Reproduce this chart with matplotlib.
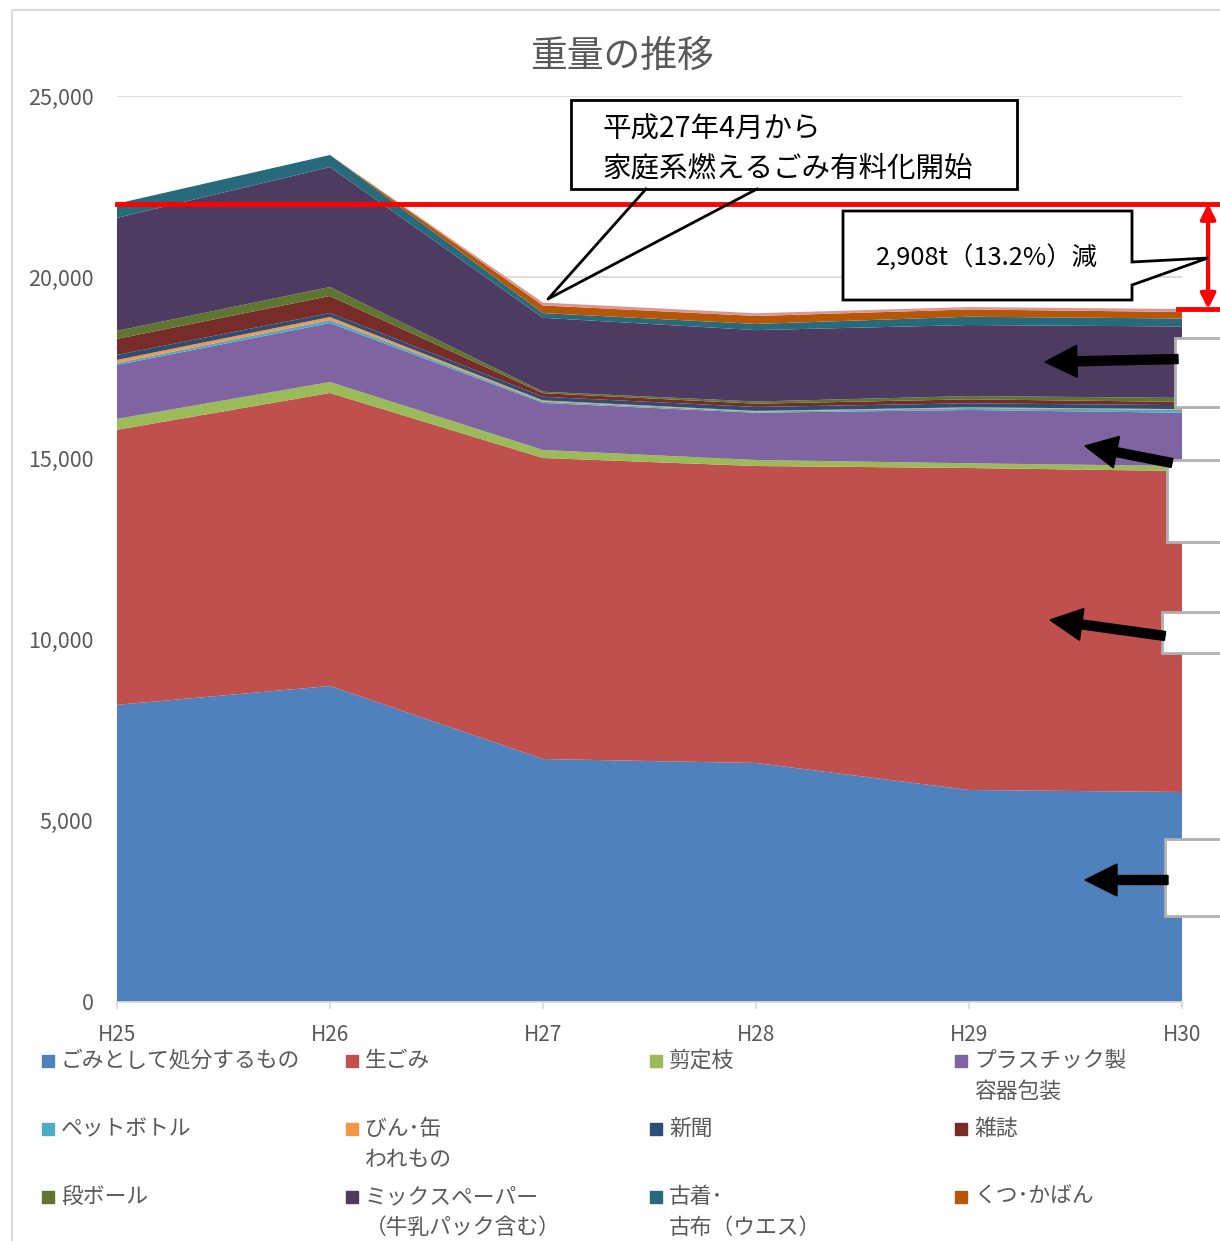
import matplotlib
matplotlib.use('Agg')
import matplotlib.pyplot as plt
from matplotlib.patches import Polygon, Rectangle, FancyArrow
import numpy as np

plt.rcParams['font.family'] = ['Noto Sans CJK JP', 'DejaVu Sans']

# data (t)
years = ['H25', 'H26', 'H27', 'H28', 'H29', 'H30']
gomi = [8200, 8720, 6705, 6595, 5850, 5795]
namagomi = [7590, 8085, 8306, 8195, 8885, 8857]
sentei = [300, 303, 221, 166, 130, 138]
pura = [1490, 1628, 1298, 1304, 1471, 1471]
pet = [55, 83, 40, 30, 54, 79]
bin_kan = [83, 83, 30, 20, 20, 20]
shinbun = [138, 110, 100, 110, 110, 110]
zasshi = [442, 469, 100, 90, 110, 90]
danbo = [221, 249, 40, 60, 90, 110]
mix = [3118, 3310, 2040, 1970, 1960, 1970]
furugi = [393, 332, 130, 170, 230, 220]
kutsu = [0, 0, 210, 220, 200, 180]
sonota = [0, 0, 80, 75, 66, 82]

labels = ['ごみとして処分するもの', '生ごみ', '剪定枝', 'プラスチック製\n容器包装',
          'ペットボトル', 'びん･缶\nわれもの', '新聞', '雑誌',
          '段ボール', 'ミックスペーパー\n（牛乳パック含む）', '古着･\n古布（ウエス）', 'くつ･かばん']
colors = ['#4F81BD', '#C0504D', '#9BBB59', '#8064A2', '#4BACC6', '#F79646',
          '#2C4D75', '#772C2A', '#5F7530', '#4D3B62', '#276A7C', '#B65708', '#D99694']

GRAY = '#595959'


def legend_items(fig):
    '''
    Objective: draw the 4 column legend below the chart
    '''
    xs = [42, 346, 650, 955]
    ys = [1061, 1129, 1197]
    W, H = 1220.0, 1241.0
    for i, lab in enumerate(labels):
        x = xs[i % 4]
        y = ys[i // 4]
        fig.patches.append(Rectangle((x / W, 1 - (y + 6) / H), 12 / W, 12 / H,
                                     transform=fig.transFigure, color=colors[i]))
        for j, line in enumerate(lab.split('\n')):
            fig.text((x + 19) / W, 1 - (y + 31 * j) / H, line, fontsize=15.7,
                     color=GRAY, va='center', ha='left')


def main():
    fig = plt.figure(figsize=(12.2, 12.41), dpi=100)
    W, H = 1220.0, 1241.0
    ax = fig.add_axes([117 / W, 1 - 1002 / H, 1065 / W, 906 / H])

    x = np.arange(len(years))
    series = [gomi, namagomi, sentei, pura, pet, bin_kan, shinbun, zasshi,
              danbo, mix, furugi, kutsu, sonota]
    ax.stackplot(x, *series, colors=colors, linewidth=0, zorder=2)

    ax.set_xlim(0, len(years) - 1)
    ax.set_ylim(0, 25000)
    ax.set_yticks(range(0, 25001, 5000))
    ax.set_yticklabels(['{:,}'.format(v) for v in range(0, 25001, 5000)])
    ax.set_xticks(x)
    ax.set_xticklabels(years)
    ax.grid(axis='y', color='#d9d9d9', linewidth=1.3, zorder=0)
    ax.set_axisbelow(True)
    for s in ['left', 'right', 'top']:
        ax.spines[s].set_visible(False)
    ax.spines['bottom'].set_color('#d9d9d9')
    ax.spines['bottom'].set_linewidth(1.3)
    ax.spines['bottom'].set_zorder(3)
    ax.tick_params(axis='y', length=0, pad=17, labelsize=15.5, labelcolor=GRAY)
    ax.tick_params(axis='x', length=5, width=1.3, color='#d9d9d9', pad=11,
                   labelsize=15, labelcolor=GRAY)

    fig.text(622 / W, 1 - 56 / H, '重量の推移', fontsize=26.5, color=GRAY,
             ha='center', va='center')

    # red lines: total of first and last year
    tot = np.sum(series, axis=0)
    trans = ax.get_yaxis_transform()
    ax.plot([0, 1.2], [tot[0], tot[0]], color='#FF0000', lw=3.5,
            transform=trans, clip_on=False, zorder=5)
    ax.plot([0.996, 1.2], [tot[-1], tot[-1]], color='#FF0000', lw=3.5,
            transform=trans, clip_on=False, zorder=5)
    ax.annotate('', xy=(1.0245, tot[0]), xytext=(1.0245, tot[-1]),
                xycoords=trans, textcoords=trans,
                arrowprops=dict(arrowstyle='<|-|>,head_width=0.45,head_length=0.9',
                                color='#FF0000', lw=3, shrinkA=0, shrinkB=0),
                annotation_clip=False, zorder=6)

    # overlay in pixel coords
    ov = fig.add_axes([0, 0, 1, 1], zorder=10)
    ov.set_xlim(0, W)
    ov.set_ylim(H, 0)
    ov.axis('off')
    ov.patch.set_alpha(0)

    # outer chart border
    ov.add_patch(Rectangle((12, 10), 1300, 1300, fill=False, edgecolor='#d9d9d9', lw=1.5))

    # callout 1
    ov.add_patch(Rectangle((571, 100), 446, 89, facecolor='white', edgecolor='black', lw=2))
    ov.plot([646, 548, 757], [189, 299, 189], color='black', lw=2)
    ov.text(603, 130, '平成27年4月から', fontsize=20.5, va='center', ha='left')
    ov.text(603, 168, '家庭系燃えるごみ有料化開始', fontsize=20.5, va='center', ha='left')

    # callout 2
    ov.add_patch(Polygon([(843, 211), (1132, 211), (1132, 262), (1208, 258),
                          (1132, 285), (1132, 300), (843, 300)],
                         closed=True, facecolor='white', edgecolor='black', lw=2))
    ov.text(987, 258, '2,908t（13.2%）減', fontsize=18.3, va='center', ha='center')

    # label boxes cut at the right edge
    for (x0, y0, y1) in [(1175, 338, 407), (1167, 460, 542), (1162, 612, 653), (1165, 839, 916)]:
        ov.add_patch(Rectangle((x0, y0), 100, y1 - y0, facecolor='white',
                               edgecolor='#b0b0b0', lw=2))

    # black arrows
    for (tx, ty, hx, hy) in [(1178, 359, 1045, 362), (1172, 463, 1085, 446),
                             (1165, 636, 1050, 620), (1168, 880, 1085, 880)]:
        ov.add_patch(FancyArrow(tx, ty, hx - tx, hy - ty, width=9, head_width=32,
                                head_length=32, length_includes_head=True,
                                color='black'))

    legend_items(fig)
    fig.savefig('out.png', dpi=100)


if __name__ == '__main__':
    main()
